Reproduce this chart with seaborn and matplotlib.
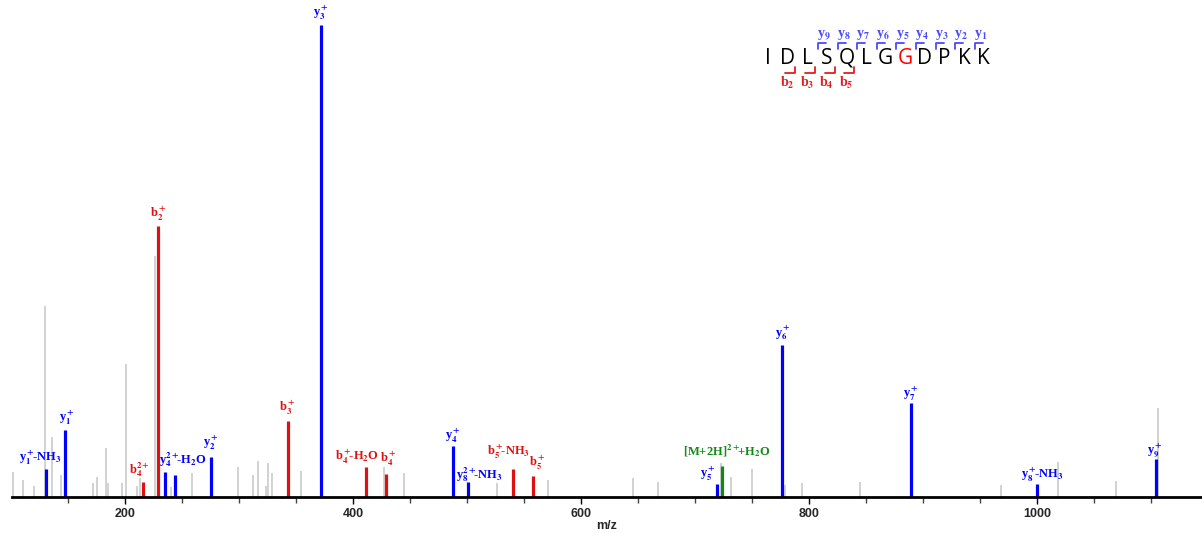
import matplotlib
matplotlib.use("Agg")
import matplotlib.pyplot as plt
import seaborn as sns
import pandas as pd

# --- data (m/z, relative intensity, y3+ = 100) ---
gray_mz = [101.8, 110.3, 120.2, 129.6, 136.0, 143.6, 171.7, 175.2, 183.3, 185.1,
           197.4, 200.9, 210.5, 212.9, 226.3, 240.4, 258.5, 299.1, 312.0, 316.4,
           323.4, 325.2, 329.2, 354.6, 427.2, 444.7, 526.6, 571.3, 645.6, 667.5,
           722.8, 731.3, 749.7, 778.7, 793.6, 844.7, 968.4, 1018.4, 1069.6, 1105.9]
gray_int = [5.4, 3.6, 2.3, 40.5, 12.7, 4.7, 3.0, 4.2, 10.4, 3.0,
            3.0, 28.2, 2.3, 4.0, 51.1, 2.1, 5.1, 6.4, 4.7, 7.6,
            2.3, 7.2, 5.1, 5.5, 6.4, 5.1, 3.0, 3.6, 4.0, 3.2,
            7.2, 4.2, 5.9, 2.5, 3.0, 3.2, 2.5, 7.4, 3.4, 18.9]

ion_mz = [130.7, 147.4, 215.5, 229.2, 235.1, 243.9, 275.2, 342.7, 371.9, 411.4,
          429.2, 487.7, 500.9, 540.4, 557.6, 719.3, 724.0, 776.6, 889.5, 1000.3, 1104.4]
ion_int = [5.9, 14.2, 3.2, 57.4, 5.4, 4.7, 8.5, 16.0, 100, 6.4,
           4.9, 10.9, 3.2, 5.9, 4.5, 2.8, 6.6, 32.2, 20.0, 2.8, 8.0]
ion_type = ["y", "y", "b", "b", "y", "y", "y", "b", "y", "b",
            "b", "y", "y", "b", "b", "y", "M", "y", "y", "y", "y"]
ion_label = [r"y$_1^+\!\!$-NH$_3$", r"y$_1^+$", r"b$_4^{2+}$", r"b$_2^+$",
             r"y$_4^{2+}\!\!$-H$_2$O", "",
             r"y$_2^+$", r"b$_3^+$", r"y$_3^+$", r"b$_4^+\!\!$-H$_2$O", r"b$_4^+$", r"y$_4^+$",
             r"y$_8^{2+}\!\!$-NH$_3$", r"b$_5^+\!\!$-NH$_3$", r"b$_5^+$", r"y$_5^+$",
             r"[M+2H]$^{2+}\!\!$+H$_2$O", r"y$_6^+$", r"y$_7^+$", r"y$_8^+\!\!$-NH$_3$", r"y$_9^+$"]
# label offsets in pixels (dx, dy) from the peak top
label_dx = [-6, 2, -3, 0, 18, 0, 0, 0, 0, -9, 2, 0, 11, -5, 5, -9, 4, 0, 0, 5, -1]
label_dy = [2, 3, 3, 3, 3, 0, 5, 4, 3, 1, 6, 1, -2, 8, 4, 1, 7, 3, 0, 0, 0]

sequence = list("IDLSQLGGDPKK")
y_ions = [9, 8, 7, 6, 5, 4, 3, 2, 1]
b_ions = [2, 3, 4, 5]

colors = {"y": "#0000ff", "b": "#e01010", "M": "#108a10"}

gray = pd.DataFrame({"mz": gray_mz, "intensity": gray_int})
ions = pd.DataFrame({"mz": ion_mz, "intensity": ion_int, "type": ion_type, "label": ion_label})

sns.set_style("white")
plt.rcParams["mathtext.fontset"] = "stix"
plt.rcParams["mathtext.default"] = "bf"

fig = plt.figure(figsize=(12.02, 5.33), dpi=100)
ax = fig.add_axes([12 / 1202, 36 / 533, 1 - 12 / 1202, 497 / 533])

ax.vlines(gray["mz"], 0, gray["intensity"], color="#cfcfcf", lw=1.3, zorder=1)
for t, grp in ions.groupby("type"):
    ax.vlines(grp["mz"], 0, grp["intensity"], color=colors[t], lw=2.3, zorder=2)

for i, r in ions.iterrows():
    if not r["label"]:
        continue
    ax.annotate(r["label"], xy=(r["mz"], r["intensity"]),
                xytext=(label_dx[i], label_dy[i]), textcoords="offset pixels",
                ha="center", va="bottom", color=colors[r["type"]],
                fontsize=9, family="Liberation Serif", fontweight="bold")

ax.set_xlim(100.9, 1144.7)
ax.set_ylim(0, 105.3)
sns.despine(ax=ax, left=True)
ax.spines["bottom"].set_linewidth(2)
ax.spines["bottom"].set_color("black")
ax.set_yticks([])
ax.set_xticks([200, 400, 600, 800, 1000])
ax.set_xticks(range(150, 1150, 50), minor=True)
ax.tick_params(axis="x", which="major", direction="out", length=5, width=1,
               color="black", pad=3, bottom=True)
ax.tick_params(axis="x", which="minor", direction="out", length=4, width=1,
               color="#444444", bottom=True)
for lab in ax.get_xticklabels():
    lab.set_fontweight("bold")
    lab.set_fontsize(9)
    lab.set_family("Liberation Sans")
ax.set_xlabel("m/z", fontsize=9, fontweight="bold", family="Liberation Sans", labelpad=0)

# --- peptide sequence with fragment brackets (drawn in pixel space) ---
ov = fig.add_axes([0, 0, 1, 1], zorder=5)
ov.set_xlim(0, 1202)
ov.set_ylim(533, 0)
ov.axis("off")
ov.patch.set_alpha(0)

x0, step, yc = 768, 19.6, 58
xs = [x0 + i * step for i in range(len(sequence))]
for i, aa in enumerate(sequence):
    ov.text(xs[i], yc, aa, ha="center", va="center", fontsize=15,
            family="Open Sans", color="red" if i == 7 else "black")

yb_col = "#4a4aff"
for n in y_ions:
    bx = (xs[11 - n] + xs[12 - n]) / 2 + 1
    ov.plot([bx, bx, bx + 8], [49, 43, 43], color=yb_col, lw=1.3)
    ov.text(bx + 6, 35, "y$_{%d}$" % n, ha="center", va="center", color=yb_col,
            fontsize=10, family="Liberation Serif", fontweight="bold")

rb_col = "#e02020"
for n in b_ions:
    bx = (xs[n - 1] + xs[n]) / 2 - 2
    ov.plot([bx - 10, bx, bx], [73, 73, 67], color=rb_col, lw=1.3)
    ov.text(bx - 8, 83, "b$_{%d}$" % n, ha="center", va="center", color=rb_col,
            fontsize=10, family="Liberation Serif", fontweight="bold")

fig.savefig("out.png", dpi=100)
